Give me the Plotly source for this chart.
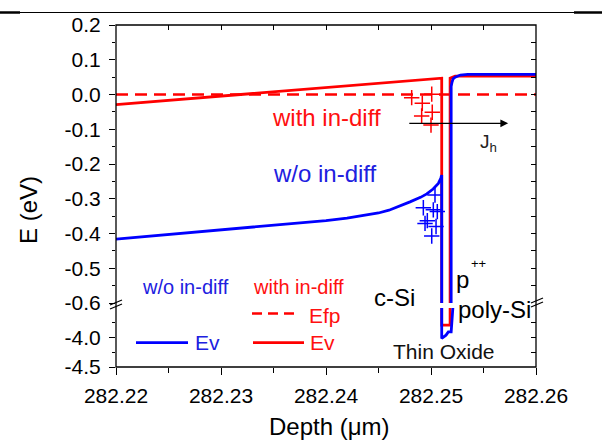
import plotly.graph_objects as go

# ---------------- data ----------------
depth_efp = [282.22, 282.26]
efp = [0.0, 0.0]

depth_red = [282.22, 282.225, 282.23, 282.235, 282.24, 282.245, 282.25, 282.25102,
             282.25102, 282.25182, 282.25182, 282.2523, 282.26]
ev_red = [-0.029, -0.017, -0.003, 0.008, 0.019, 0.031, 0.044, 0.047,
          -3.79, -3.79, 0.047, 0.053, 0.053]

depth_blue = [282.22, 282.225, 282.23, 282.235, 282.238, 282.24, 282.242, 282.244,
              282.245, 282.246, 282.247, 282.248, 282.249, 282.2496, 282.2502,
              282.2507, 282.25093, 282.25102,
              282.25102, 282.25143, 282.25165, 282.25192, 282.25192, 282.25200,
              282.2521, 282.2523, 282.2528, 282.2535, 282.26]
ev_blue = [-0.416, -0.403, -0.390, -0.377, -0.370, -0.363, -0.356, -0.347,
           -0.341, -0.333, -0.322, -0.309, -0.296, -0.286, -0.272,
           -0.256, -0.241, -0.232,
           -4.015, -3.96, -3.905, -3.905, 0.023, 0.035,
           0.045, 0.050, 0.056, 0.058, 0.058]

plus_red_x = [282.24816, 282.24917, 282.25007, 282.24911, 282.25012, 282.25000]
plus_red_y = [-0.009, -0.025, 0.001, -0.062, -0.051, -0.088]
plus_blue_x = [282.25038, 282.24927, 282.25022, 282.25060, 282.24965, 282.24943, 282.25048, 282.25007]
plus_blue_y = [-0.289, -0.326, -0.332, -0.337, -0.363, -0.371, -0.380, -0.407]

x_tickvals = [282.22, 282.23, 282.24, 282.25, 282.26]
x_ticktext = ["282.22", "282.23", "282.24", "282.25", "282.26"]
x_minorvals = [282.225, 282.235, 282.245, 282.255]
upper_tickvals = [0.2, 0.1, 0.0, -0.1, -0.2, -0.3, -0.4, -0.5, -0.6]
upper_ticktext = ["0.2", "0.1", "0.0", "-0.1", "-0.2", "-0.3", "-0.4", "-0.5", "-0.6"]
upper_minorvals = [0.15, 0.05, -0.05, -0.15, -0.25, -0.35, -0.45, -0.55]
lower_tickvals = [-4.0, -4.5]
lower_ticktext = ["-4.0", "-4.5"]
lower_minorvals = [-3.75, -4.25]

arrow_x = [282.24779, 282.25735]
arrow_y = [-0.083, -0.083]

# ---------------- layout helpers ----------------
L, R, T, B = 116, 66, 25, 75
W = 602 - L - R
H = 442 - T - B


def px(x):
    return (x - L) / W


def py(y):
    return (T + H - y) / H


RED = "#FF0000"
BLUE = "#0000FF"
RED_T = "#FF1010"
BLUE_T = "#2020E0"
FONT = "Arial, Liberation Sans, sans-serif"

fig = go.Figure()

for yax in ["y", "y2"]:
    fig.add_trace(go.Scatter(x=depth_efp, y=efp, mode="lines", xaxis="x", yaxis=yax,
                             line=dict(color=RED, width=2.5, dash="12px,7px"),
                             showlegend=False, hoverinfo="skip"))
    fig.add_trace(go.Scatter(x=depth_red, y=ev_red, mode="lines", xaxis="x", yaxis=yax,
                             line=dict(color=RED, width=2.8),
                             showlegend=False, hoverinfo="skip"))
    fig.add_trace(go.Scatter(x=depth_blue, y=ev_blue, mode="lines", xaxis="x", yaxis=yax,
                             line=dict(color=BLUE, width=2.8),
                             showlegend=False, hoverinfo="skip"))

fig.add_trace(go.Scatter(x=plus_red_x, y=plus_red_y, mode="markers", xaxis="x", yaxis="y",
                         marker=dict(symbol="cross-thin", size=11, line=dict(color=RED, width=1.5)),
                         showlegend=False, hoverinfo="skip"))
fig.add_trace(go.Scatter(x=plus_blue_x, y=plus_blue_y, mode="markers", xaxis="x", yaxis="y",
                         marker=dict(symbol="cross-thin", size=11, line=dict(color=BLUE, width=1.5)),
                         showlegend=False, hoverinfo="skip"))

# dummy traces so the mirror (inside-tick) axes are drawn
for xa, ya in [("x2", "y"), ("x", "y3"), ("x", "y4")]:
    fig.add_trace(go.Scatter(x=[None], y=[None], xaxis=xa, yaxis=ya, showlegend=False,
                             hoverinfo="skip"))

tickfont = dict(family=FONT, size=21, color="black")
common = dict(showgrid=False, zeroline=False, showline=False, tickcolor="black",
              tickwidth=1.3)

upper_dom = [py(303), 1]
lower_dom = [0, py(308)]

fig.update_layout(
    width=602, height=442,
    margin=dict(l=L, r=R, t=T, b=B),
    paper_bgcolor="white", plot_bgcolor="white",
    showlegend=False,
    xaxis=dict(domain=[0, 1], range=[282.22, 282.26], anchor="y2",
               tickmode="array", tickvals=x_tickvals, ticktext=x_ticktext,
               ticks="outside", ticklen=7, tickfont=tickfont, ticklabelstandoff=3,
               minor=dict(tickmode="array", tickvals=x_minorvals, ticks="outside",
                          ticklen=5, tickwidth=1.3, tickcolor="black"),
               **common),
    xaxis2=dict(overlaying="x", side="top", anchor="y", range=[282.22, 282.26],
                tickmode="array", tickvals=x_tickvals, showticklabels=False,
                ticks="inside", ticklen=5,
                minor=dict(tickmode="array", tickvals=x_minorvals, ticks="inside",
                           ticklen=5, tickwidth=1.3, tickcolor="black"),
                **common),
    yaxis=dict(domain=upper_dom, range=[-0.6, 0.2], anchor="x",
               tickmode="array", tickvals=upper_tickvals, ticktext=upper_ticktext,
               ticks="outside", ticklen=6, tickfont=tickfont, ticklabelstandoff=4,
               minor=dict(tickmode="array", tickvals=upper_minorvals, ticks="outside",
                          ticklen=3, tickwidth=1.3, tickcolor="black"),
               **common),
    yaxis2=dict(domain=lower_dom, range=[-4.5, -3.5], anchor="x",
                tickmode="array", tickvals=lower_tickvals, ticktext=lower_ticktext,
                ticks="outside", ticklen=6, tickfont=tickfont, ticklabelstandoff=4,
                minor=dict(tickmode="array", tickvals=lower_minorvals, ticks="outside",
                           ticklen=3, tickwidth=1.3, tickcolor="black"),
                **common),
    yaxis3=dict(overlaying="y", side="right", anchor="x", range=[-0.6, 0.2],
                tickmode="array", tickvals=upper_tickvals, showticklabels=False,
                ticks="inside", ticklen=5,
                minor=dict(tickmode="array", tickvals=upper_minorvals, ticks="inside",
                           ticklen=5, tickwidth=1.3, tickcolor="black"),
                **common),
    yaxis4=dict(overlaying="y2", side="right", anchor="x", range=[-4.5, -3.5],
                tickmode="array", tickvals=lower_tickvals, showticklabels=False,
                ticks="inside", ticklen=5,
                minor=dict(tickmode="array", tickvals=lower_minorvals, ticks="inside",
                           ticklen=5, tickwidth=1.3, tickcolor="black"),
                **common),
)

shapes = []
# frame
shapes.append(dict(type="rect", xref="paper", yref="paper", x0=0, x1=1, y0=0, y1=1,
                   line=dict(color="black", width=1.3)))
# axis-break marks
for (x0, y0, x1, y1) in [(110, 305, 122, 300), (110, 309, 122, 304),
                         (531, 303, 543, 298), (531, 307, 543, 302)]:
    shapes.append(dict(type="line", xref="paper", yref="paper",
                       x0=px(x0), y0=py(y0), x1=px(x1), y1=py(y1),
                       line=dict(color="black", width=1.2)))
# legend samples
shapes.append(dict(type="line", xref="paper", yref="paper", x0=px(252), x1=px(300),
                   y0=py(313.5), y1=py(313.5), line=dict(color=RED, width=2.5, dash="10px,6px")))
shapes.append(dict(type="line", xref="paper", yref="paper", x0=px(136), x1=px(188),
                   y0=py(342.7), y1=py(342.7), line=dict(color=BLUE, width=2.8)))
shapes.append(dict(type="line", xref="paper", yref="paper", x0=px(253), x1=px(304),
                   y0=py(342.7), y1=py(342.7), line=dict(color=RED, width=2.8)))
# page rule at top
shapes.append(dict(type="line", xref="paper", yref="paper", x0=px(0), x1=px(602),
                   y0=py(12.5), y1=py(12.5), line=dict(color="black", width=1)))
shapes.append(dict(type="line", xref="paper", yref="paper", x0=px(0), x1=px(20),
                   y0=py(12.5), y1=py(12.5), line=dict(color="black", width=2.5)))
shapes.append(dict(type="line", xref="paper", yref="paper", x0=px(574), x1=px(602),
                   y0=py(12.5), y1=py(12.5), line=dict(color="black", width=2.5)))
fig.update_layout(shapes=shapes)


def txt(s, x, y, size, color="black", angle=0):
    return dict(text=s, xref="paper", yref="paper", x=px(x), y=py(y),
                xanchor="center", yanchor="middle", showarrow=False, textangle=angle,
                font=dict(family=FONT, size=size, color=color))


annotations = [
    txt("with in-diff", 326, 118, 24, RED_T),
    txt("w/o in-diff", 325, 174, 24, BLUE_T),
    txt("w/o in-diff", 185, 286.5, 20, BLUE_T),
    txt("with in-diff", 298, 286.5, 20, RED_T),
    txt("Efp", 325, 315, 21, RED_T),
    txt("Ev", 207, 342.5, 21, BLUE_T),
    txt("Ev", 322.5, 342.5, 21, RED_T),
    txt("c-Si", 394.5, 297, 24),
    txt("p", 462, 279, 24),
    txt("++", 478, 263, 13),
    txt("poly-Si", 494, 309, 24),
    txt("Thin Oxide", 444, 351, 21, "#111111"),
    txt("J<sub>h</sub>", 488, 143, 19, "#222222"),
    txt("E (eV)", 28, 210, 24, angle=-90),
    txt("Depth (\u03bcm)", 329, 426, 24),
    dict(x=arrow_x[1], y=arrow_y[1], ax=arrow_x[0], ay=arrow_y[0],
         xref="x", yref="y", axref="x", ayref="y", text="", showarrow=True,
         arrowhead=2, arrowsize=1.2, arrowwidth=1.3, arrowcolor="black"),
]
fig.update_layout(annotations=annotations)

fig.write_html("out.html", config={"displayModeBar": False},
               post_script="document.body.style.margin='0';document.body.style.overflow='hidden';")
